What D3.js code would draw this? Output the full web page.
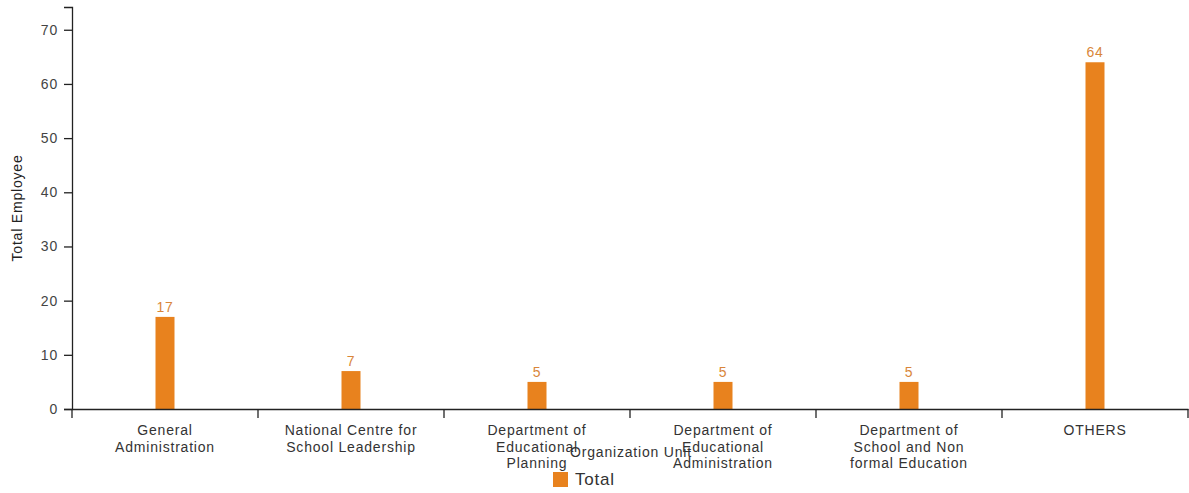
<!DOCTYPE html>
<html>
<head>
<meta charset="utf-8">
<script src="https://cdn.jsdelivr.net/npm/d3@7"></script>
<style>
  html, body { margin: 0; padding: 0; background: #fff; }
  svg { display: block; font-family: "Liberation Sans", Arial, sans-serif; }
  svg text { letter-spacing: 0.8px; }
</style>
</head>
<body>
<svg id="chart" width="1189" height="493"></svg>
<script>
// Employees per organization unit
const categories = [
  "General Administration",
  "National Centre for School Leadership",
  "Department of Educational Planning",
  "Department of Educational Administration",
  "Department of School and Non formal Education",
  "OTHERS"
];
const totals = [17, 7, 5, 5, 5, 64];
const yTicks = [0, 10, 20, 30, 40, 50, 60, 70];
const seriesName = "Total";

const barColor = "#e8821e";
const svg = d3.select("#chart");
const margin = { left: 72, right: 1, top: 7, bottom: 84 };
const W = 1189, H = 493;

const x = d3.scaleBand()
  .domain(categories)
  .range([margin.left, W - margin.right])
  .paddingInner(0).paddingOuter(0);

const y = d3.scaleLinear()
  .domain([0, 74.2])
  .range([H - margin.bottom, margin.top]);

const barW = 19;

// bars
svg.append("g").selectAll("rect")
  .data(categories)
  .join("rect")
  .attr("x", (d) => x(d) + x.bandwidth() / 2 - barW / 2)
  .attr("y", (d, i) => y(totals[i]))
  .attr("width", barW)
  .attr("height", (d, i) => y(0) - y(totals[i]))
  .attr("fill", barColor);

// value labels
svg.append("g").selectAll("text")
  .data(categories)
  .join("text")
  .attr("x", (d) => x(d) + x.bandwidth() / 2)
  .attr("y", (d, i) => y(totals[i]) - 5)
  .attr("text-anchor", "middle")
  .attr("font-size", 14)
  .attr("fill", "#d9863a")
  .text((d, i) => totals[i]);

// y axis
const yAxis = svg.append("g")
  .attr("transform", `translate(${margin.left},0)`)
  .call(d3.axisLeft(y).tickValues(yTicks).tickSize(8).tickSizeOuter(8).tickPadding(6));
yAxis.select(".domain").attr("stroke", "#222").attr("stroke-width", 1.3);
yAxis.selectAll(".tick line").attr("stroke", "#222").attr("stroke-width", 1.3);
yAxis.selectAll(".tick text").attr("font-size", 14).attr("fill", "#444")
  .attr("font-family", "Liberation Sans, Arial, sans-serif");

// x axis
const xAxis = svg.append("g")
  .attr("transform", `translate(0,${y(0)})`)
  .call(d3.axisBottom(x).tickSize(0).tickSizeOuter(0).tickPadding(0));
xAxis.select(".domain").attr("stroke", "#222").attr("stroke-width", 1.3);
xAxis.selectAll(".tick line").remove();

// boundary ticks between bands
const edges = categories.map((d) => x(d)).concat([x(categories[categories.length - 1]) + x.bandwidth()]);
xAxis.append("g").selectAll("line")
  .data(edges)
  .join("line")
  .attr("x1", (d) => d).attr("x2", (d) => d)
  .attr("y1", 0).attr("y2", 9)
  .attr("stroke", "#222").attr("stroke-width", 1.3);

// wrap category labels onto several lines
function wrap(textSel, width, firstBaseline, lineStep) {
  textSel.each(function () {
    const text = d3.select(this);
    const words = text.text().split(/\s+/);
    text.text(null).attr("dy", null).attr("y", null);
    let line = [];
    let lineNo = 0;
    let tspan = text.append("tspan").attr("x", 0).attr("y", firstBaseline);
    for (const w of words) {
      line.push(w);
      tspan.text(line.join(" "));
      if (tspan.node().getComputedTextLength() > width && line.length > 1) {
        line.pop();
        tspan.text(line.join(" "));
        line = [w];
        lineNo++;
        tspan = text.append("tspan").attr("x", 0)
          .attr("y", firstBaseline + lineNo * lineStep).text(w);
      }
    }
  });
}
xAxis.selectAll(".tick text")
  .attr("font-size", 14).attr("fill", "#333")
  .attr("font-family", "Liberation Sans, Arial, sans-serif")
  .call(wrap, 140, 26, 16.5);

// axis titles
svg.append("text")
  .attr("x", 631).attr("y", 457)
  .attr("text-anchor", "middle")
  .attr("font-size", 14).attr("fill", "#333")
  .text("Organization Unit");

svg.append("text")
  .attr("transform", `translate(22,${(y(0) + margin.top) / 2}) rotate(-90)`)
  .attr("text-anchor", "middle")
  .attr("font-size", 14).attr("fill", "#222")
  .text("Total Employee");

// legend
const legend = svg.append("g").attr("transform", "translate(553,472)");
legend.append("rect").attr("width", 15).attr("height", 15).attr("fill", barColor);
legend.append("text").attr("x", 22).attr("y", 13)
  .attr("font-size", 17).attr("fill", "#333").text(seriesName);
</script>
</body>
</html>
